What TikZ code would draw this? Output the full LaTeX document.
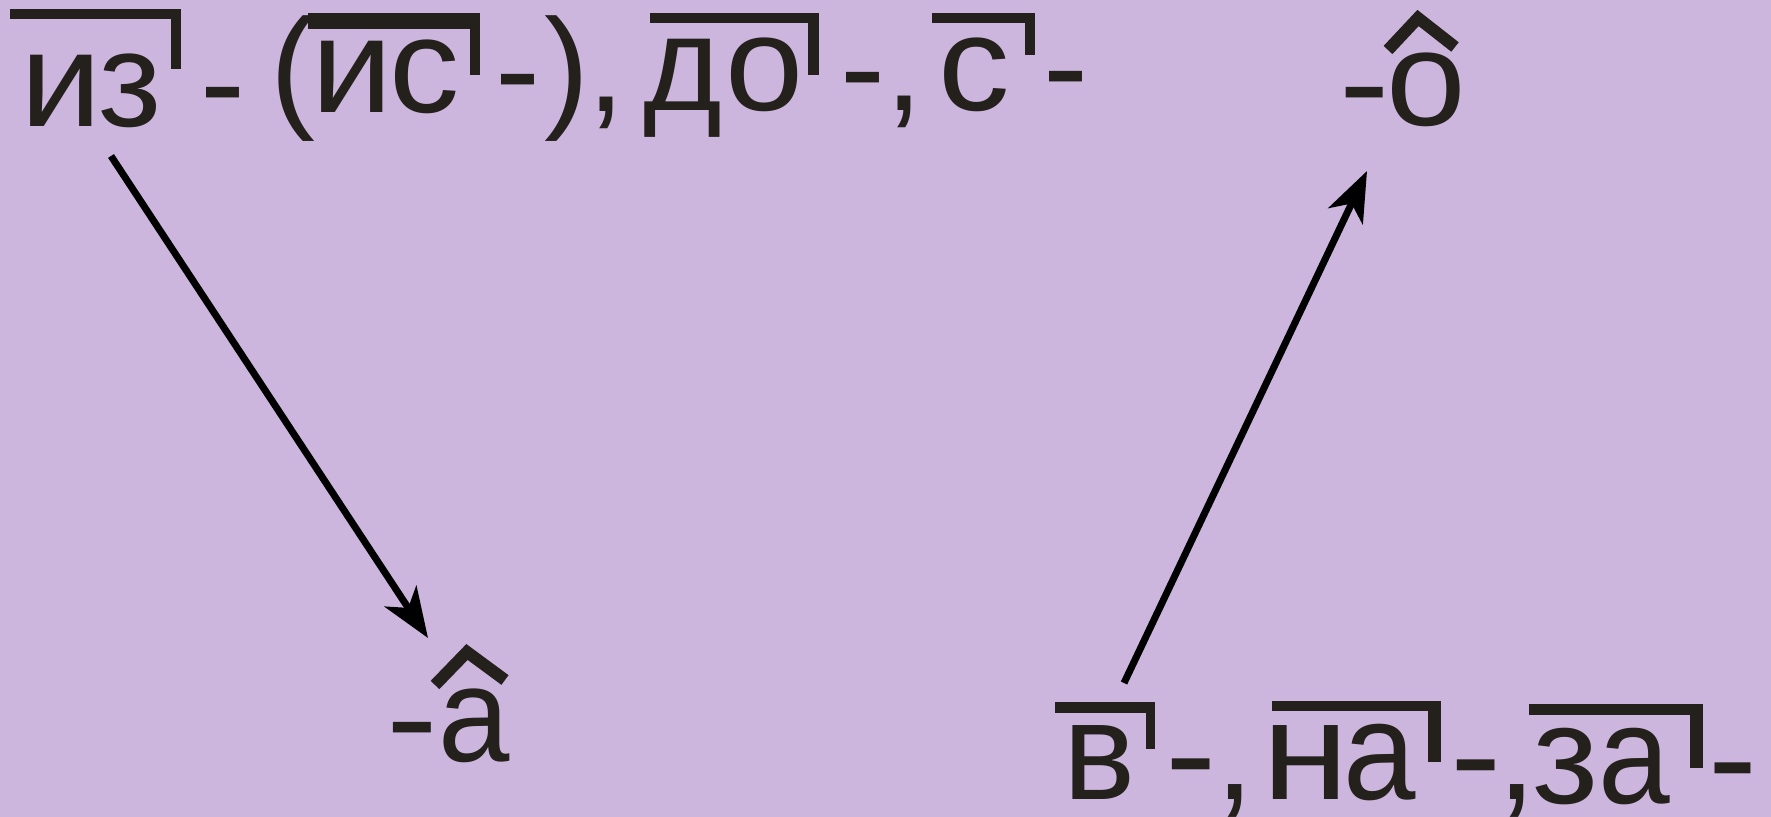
\documentclass[tikz,border=0pt]{standalone}
\usepackage{fontspec}
\setmainfont{Liberation Sans}
\usetikzlibrary{arrows.meta}
\definecolor{bgc}{RGB}{204,182,222}
\definecolor{inkc}{RGB}{36,32,28}
\newcommand\prefixmark[6]{% x1 x2 ytop ybot barthick hookwidth
  \fill[inkc] (#1,#3) rectangle (#2,#3+#5);
  \fill[inkc] (#2-#6,#3) rectangle (#2,#4);}
\newcommand\sx[2]{\scalebox{#1}[1]{#2}}
\tikzset{
  txt/.style={inner sep=0pt, outer sep=0pt, anchor=base, text=inkc,
    font=\fontsize{67.5}{80}\selectfont},
  txtb/.style={txt, font=\fontsize{70}{84}\selectfont},
  caret/.style={draw=inkc, line width=6pt, miter limit=10, line join=miter},
  arr/.style={draw=black, line width=3.5pt, -{Stealth[length=25pt,width=19pt,inset=7pt]}}
}
\begin{document}
\begin{tikzpicture}[x=0.5pt,y=-0.5pt]
\fill[bgc] (0,0) rectangle (1771,817);
\useasboundingbox (0,0) rectangle (1771,817);
% top row
\node[txt] (w1a) at (61.6,127) {\sx{1.08}{и}};
\node[txt] (w1b) at (130,127) {\sx{1.02}{з}};
\node[txt] (h1) at (223,129) {-};
\node[txt] (lp) at (292.5,113.3) {(};
\node[txt] (w2a) at (352,113) {\sx{1.08}{и}};
\node[txt] (w2b) at (424.5,113) {\sx{1.04}{с}};
\node[txt] (h2) at (518,115.5) {-};
\node[txt] (rp) at (566.5,113.3) {)};
\node[txt] (c1) at (606,111.5) {,};
\node[txt] (w3a) at (683,111) {д};
\node[txt] (w3b) at (765,111) {\sx{1.04}{о}};
\node[txt] (h3) at (862.5,113.5) {-};
\node[txt] (c2) at (904,110.5) {,};
\node[txt] (w4) at (974.5,111) {\sx{1.06}{с}};
\node[txt] (h4) at (1065.5,113) {-};
\node[txt] (h5) at (1364.5,128.5) {\sx{1.12}{-}};
\node[txt] (w5) at (1426,126) {\sx{1.06}{о}};
% bottom row
\node[txt] (h6) at (412,763.5) {\sx{1.15}{-}};
\node[txt] (w6) at (474,761) {\sx{0.95}{а}};
\node[txtb] (w7) at (1099.5,799) {\sx{0.97}{в}};
\node[txtb] (h7) at (1191,801.5) {\sx{1.1}{-}};
\node[txtb] (c3) at (1234.5,799) {,};
\node[txtb] (w8a) at (1306,799) {\sx{1.12}{н}};
\node[txtb] (w8b) at (1379.5,799) {\sx{0.93}{а}};
\node[txtb] (h8) at (1476.5,802) {\sx{1.1}{-}};
\node[txtb] (c4) at (1517,799) {,};
\node[txtb] (w9a) at (1565.5,803) {\sx{1.03}{з}};
\node[txtb] (w9b) at (1634,803) {\sx{0.92}{а}};
\node[txtb] (h9) at (1733,805) {\sx{1.05}{-}};
% prefix marks
\prefixmark{9.6}{181}{9}{69}{10}{10}
\prefixmark{308}{480}{13}{75}{16}{10}
\prefixmark{650}{819}{13}{75}{10}{11}
\prefixmark{932}{1035}{13}{55}{10}{10}
\prefixmark{1055}{1155}{702}{749}{11}{9}
\prefixmark{1272}{1441}{701}{762}{10}{13}
\prefixmark{1529}{1703}{704}{768}{11}{13}
% carets (ending marks)
\draw[caret] (1388,50) -- (1418,18) -- (1455,47);
\draw[caret] (435,685) -- (467,652) -- (505,680);
% arrows
\coordinate (a1s) at (111,156);
\coordinate (a1e) at (428,638);
\coordinate (a2s) at (1124,683);
\coordinate (a2e) at (1367,171);
\draw[arr] (a1s) -- (a1e);
\draw[arr] (a2s) -- (a2e);
\end{tikzpicture}
\end{document}
